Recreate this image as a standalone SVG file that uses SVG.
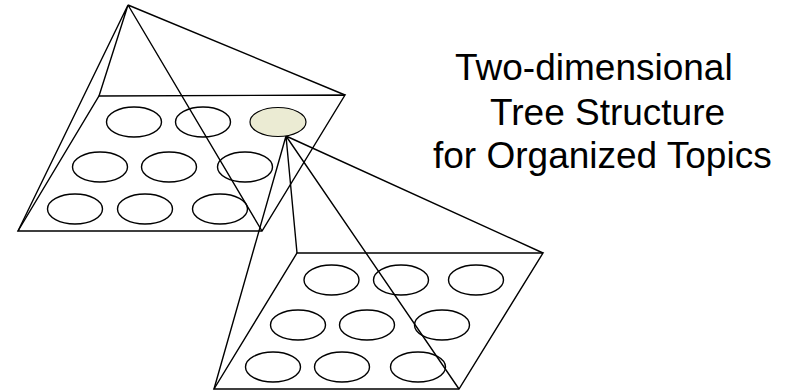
<svg xmlns="http://www.w3.org/2000/svg" width="786" height="391" viewBox="0 0 786 391">
<style>
.ln{stroke:#000;stroke-width:1.4;fill:none;stroke-linejoin:miter}
.el{stroke:#000;stroke-width:1.4;fill:#fff}
.sel{stroke:#000;stroke-width:1.2;fill:#EBEBD3}
.t{font-family:"Liberation Sans",Arial,sans-serif;font-size:37px;fill:#000}
</style>
<rect width="786" height="391" fill="#fff"/>
<g id="upper-plane">
<polygon class="ln" points="99,96 345,95 262,231 18,231"/>
<ellipse class="el" cx="134" cy="122" rx="27.5" ry="15"/>
<ellipse class="el" cx="203" cy="122" rx="27.5" ry="15"/>
<ellipse class="el" cx="100" cy="167" rx="27.5" ry="15"/>
<ellipse class="el" cx="169" cy="167" rx="27.5" ry="15"/>
<ellipse class="el" cx="245" cy="167" rx="27.5" ry="15"/>
<ellipse class="el" cx="75" cy="209" rx="27.5" ry="15"/>
<ellipse class="el" cx="145" cy="209" rx="27.5" ry="15"/>
<ellipse class="el" cx="220" cy="209" rx="27.5" ry="15"/>
</g>
<g id="lower-plane">
<polygon class="ln" points="297,253 543,253 459,389 214,389"/>
<ellipse class="el" cx="331.5" cy="280" rx="27.5" ry="15"/>
<ellipse class="el" cx="401" cy="280" rx="27.5" ry="15"/>
<ellipse class="el" cx="476" cy="280" rx="27.5" ry="15"/>
<ellipse class="el" cx="298" cy="325" rx="27.5" ry="15"/>
<ellipse class="el" cx="367" cy="325" rx="27.5" ry="15"/>
<ellipse class="el" cx="442" cy="325" rx="27.5" ry="15"/>
<ellipse class="el" cx="273" cy="367" rx="27.5" ry="15"/>
<ellipse class="el" cx="342" cy="367" rx="27.5" ry="15"/>
<ellipse class="el" cx="418" cy="367" rx="27.5" ry="15"/>
</g>
<g id="connectors">
<path class="ln" d="M128,5 L99,96 M128,5 L345,95 M128,5 L18,231 M128,5 L262,231"/>
<path class="ln" d="M286,136 L297,253 M286,136 L543,253 M286,136 L214,389 M286,136 L459,389"/>
</g>
<g id="selected-topic">
<ellipse class="sel" cx="278" cy="122" rx="28" ry="14.5"/>
</g>
<g id="title">
<text class="t" x="455" y="80">Two-dimensional</text>
<text class="t" x="490" y="125">Tree Structure</text>
<text class="t" x="433" y="168">for Organized Topics</text>
</g>
</svg>
